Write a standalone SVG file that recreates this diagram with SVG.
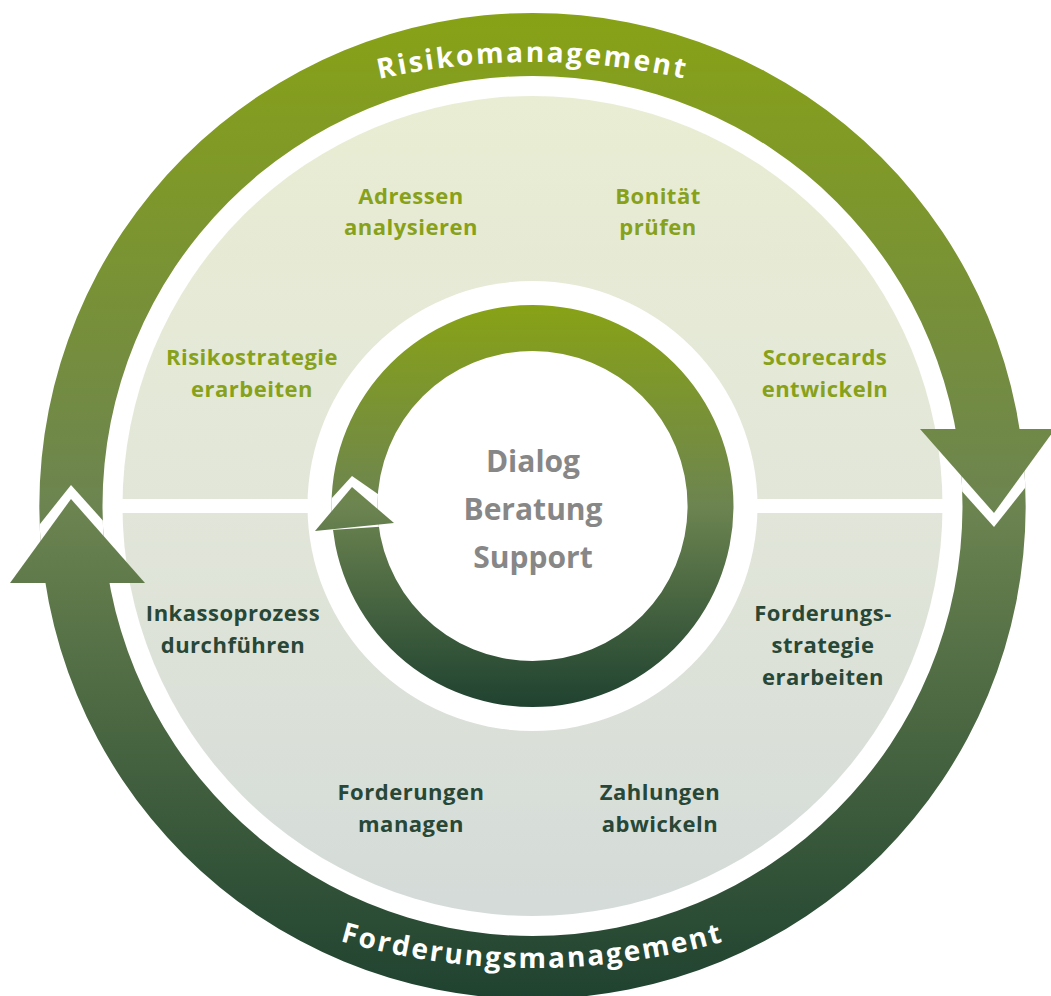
<svg xmlns="http://www.w3.org/2000/svg" width="1051" height="996" viewBox="0 0 1051 996">
<defs>
<linearGradient id="gOuter" gradientUnits="userSpaceOnUse" x1="0" y1="13" x2="0" y2="999">
<stop offset="0" stop-color="#88a216"/>
<stop offset="0.5" stop-color="#6c8450"/>
<stop offset="1" stop-color="#1f4230"/>
</linearGradient>
<linearGradient id="gInner" gradientUnits="userSpaceOnUse" x1="0" y1="305" x2="0" y2="707">
<stop offset="0" stop-color="#88a216"/>
<stop offset="0.5" stop-color="#6c8450"/>
<stop offset="1" stop-color="#1f4230"/>
</linearGradient>
<linearGradient id="gDisc" gradientUnits="userSpaceOnUse" x1="0" y1="96" x2="0" y2="916">
<stop offset="0" stop-color="#e9edd3"/>
<stop offset="0.5" stop-color="#e2e6d9"/>
<stop offset="1" stop-color="#d4dbd8"/>
</linearGradient>
<clipPath id="cOuter"><path clip-rule="evenodd" d="M532.5 13A493 493 0 1 1 532.5 999A493 493 0 1 1 532.5 13ZM532.5 76A430 430 0 1 0 532.5 936A430 430 0 1 0 532.5 76Z"/></clipPath>
<clipPath id="cInner"><path clip-rule="evenodd" d="M532.5 305A201 201 0 1 1 532.5 707A201 201 0 1 1 532.5 305ZM532.5 351A155 155 0 1 0 532.5 661A155 155 0 1 0 532.5 351Z"/></clipPath>
<path id="arcTop" d="M82.5 225.8A700 700 0 0 1 982.5 225.8"/>
<path id="arcBot" d="M82.5 804.2A700 700 0 0 0 982.5 804.2"/>
<style>
.lab{font-family:"Open Sans","Liberation Sans",sans-serif;font-weight:700;font-size:22px;text-anchor:middle;letter-spacing:0.5px}
.top{fill:#87a11a}
.bot{fill:#284736}
.ctr{font-family:"Open Sans","Liberation Sans",sans-serif;font-weight:700;font-size:30px;text-anchor:middle;fill:#878787}
.arc{font-family:"Open Sans","Liberation Sans",sans-serif;font-weight:700;font-size:28px;fill:#ffffff}
.cut{fill:#ffffff}
</style>
</defs>
<rect width="1051" height="996" fill="#ffffff"/>
<g id="disc">
<circle cx="532.5" cy="506" r="410" fill="url(#gDisc)"/>
<rect x="100" y="499" width="860" height="14" fill="#ffffff"/>
<circle cx="532.5" cy="506" r="225" fill="#ffffff"/>
</g>
<g id="connectors">
<g id="outer-ring">
<path fill-rule="evenodd" fill="url(#gOuter)" d="M532.5 13A493 493 0 1 1 532.5 999A493 493 0 1 1 532.5 13ZM532.5 76A430 430 0 1 0 532.5 936A430 430 0 1 0 532.5 76Z"/>
<g clip-path="url(#cOuter)">
<polygon class="cut" points="71,485 -7,583 159,583"/>
<polygon class="cut" points="994,527 1072,429 906,429"/>
</g>
<polygon fill="url(#gOuter)" points="71,499 145,583 10,583"/>
<polygon fill="url(#gOuter)" points="994,513 920,429 1055,429"/>
</g>
<g id="inner-ring">
<path fill-rule="evenodd" fill="url(#gInner)" d="M532.5 305A201 201 0 1 1 532.5 707A201 201 0 1 1 532.5 305ZM532.5 351A155 155 0 1 0 532.5 661A155 155 0 1 0 532.5 351Z"/>
<g clip-path="url(#cInner)">
<polygon class="cut" points="352,476 301,532 421,524"/>
</g>
<polygon fill="url(#gInner)" points="352,487 394,523 315,531"/>
</g>
<text class="arc" letter-spacing="2.4"><textPath href="#arcTop" startOffset="50%" text-anchor="middle">Risikomanagement</textPath></text>
<text class="arc" letter-spacing="2.2"><textPath href="#arcBot" startOffset="50%" text-anchor="middle">Forderungsmanagement</textPath></text>
</g>
<g id="node-center"><text class="ctr" x="533" y="472">Dialog</text><text class="ctr" x="533" y="520">Beratung</text><text class="ctr" x="533" y="568">Support</text></g>
<g id="node-adressen"><text class="lab top" x="411" y="204">Adressen</text><text class="lab top" x="411" y="235">analysieren</text></g>
<g id="node-bonitaet"><text class="lab top" x="658" y="204">Bonität</text><text class="lab top" x="658" y="235">prüfen</text></g>
<g id="node-risikostrategie"><text class="lab top" x="252" y="365">Risikostrategie</text><text class="lab top" x="252" y="397">erarbeiten</text></g>
<g id="node-scorecards"><text class="lab top" x="825" y="365">Scorecards</text><text class="lab top" x="825" y="397">entwickeln</text></g>
<g id="node-inkasso"><text class="lab bot" x="233" y="621">Inkassoprozess</text><text class="lab bot" x="233" y="653">durchführen</text></g>
<g id="node-forderungsstrategie"><text class="lab bot" x="823" y="621">Forderungs-</text><text class="lab bot" x="823" y="653">strategie</text><text class="lab bot" x="823" y="685">erarbeiten</text></g>
<g id="node-forderungen"><text class="lab bot" x="411" y="800">Forderungen</text><text class="lab bot" x="411" y="832">managen</text></g>
<g id="node-zahlungen"><text class="lab bot" x="660" y="800">Zahlungen</text><text class="lab bot" x="660" y="832">abwickeln</text></g>
</svg>
